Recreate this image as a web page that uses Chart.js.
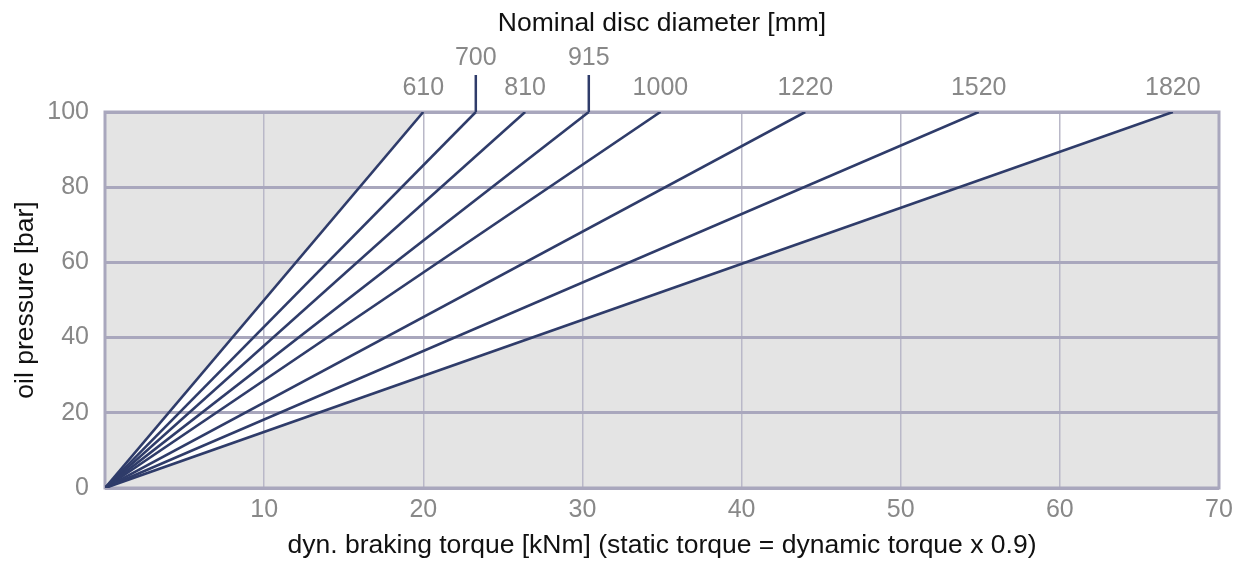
<!DOCTYPE html>
<html>
<head>
<meta charset="utf-8">
<script src="https://cdn.jsdelivr.net/npm/chart.js@4"></script>
<style>
  html, body { margin: 0; padding: 0; background: #fff; }
  #wrap { width: 1242px; height: 565px; }
</style>
</head>
<body>
<div id="wrap"><canvas id="myChart" width="1242" height="565"></canvas></div>
<script>
// disc diameters and the torque each one reaches at full oil pressure
var diameters = ['610', '700', '810', '915', '1000', '1220', '1520', '1820'];
var torqueAt100 = [20.0, 23.3, 26.4, 30.4, 34.9, 44.0, 54.9, 67.1];
var raisedLabels = ['700', '915'];
var pressureMax = 100;
var torqueMax = 70;

var navy = '#2f3c6a';
var frameColor = '#a9a7bd';

var datasets = diameters.map(function (d, i) {
    return {
        label: d,
        data: [{ x: 0, y: 0 }, { x: torqueAt100[i], y: pressureMax }],
        borderColor: navy,
        borderWidth: 2.6,
        pointRadius: 0,
        fill: false,
        xAxisID: 'x',
        yAxisID: 'y'
    };
});

var bgPlugin = {
    id: 'bgPlugin',
    beforeDraw: function (chart) {
        var ctx = chart.ctx, a = chart.chartArea;
        var xs = chart.scales.x, ys = chart.scales.y;
        ctx.save();
        ctx.fillStyle = '#e4e4e4';
        ctx.fillRect(a.left, a.top, a.right - a.left, a.bottom - a.top);
        // white wedge between first and last diameter line
        ctx.fillStyle = '#ffffff';
        ctx.beginPath();
        ctx.moveTo(xs.getPixelForValue(0), ys.getPixelForValue(0));
        ctx.lineTo(xs.getPixelForValue(torqueAt100[0]), ys.getPixelForValue(pressureMax));
        ctx.lineTo(xs.getPixelForValue(torqueAt100[torqueAt100.length - 1]), ys.getPixelForValue(pressureMax));
        ctx.closePath();
        ctx.fill();
        ctx.restore();
    },
    beforeDatasetsDraw: function (chart) {
        var ctx = chart.ctx, a = chart.chartArea;
        ctx.save();
        ctx.strokeStyle = frameColor;
        ctx.lineWidth = 3;
        ctx.strokeRect(a.left, a.top, a.right - a.left, a.bottom - a.top);
        // tick marks for the raised labels
        var x2 = chart.scales.x2;
        ctx.strokeStyle = navy;
        ctx.lineWidth = 2.5;
        diameters.forEach(function (d, i) {
            if (raisedLabels.indexOf(d) < 0) return;
            var px = x2.getPixelForValue(torqueAt100[i]);
            ctx.beginPath();
            ctx.moveTo(px, a.top);
            ctx.lineTo(px, a.top - 37);
            ctx.stroke();
        });
        ctx.restore();
    }
};

var tickFont = { family: 'Liberation Sans, Arial, sans-serif', size: 25 };
var titleFont = { family: 'Liberation Sans, Arial, sans-serif', size: 26.5 };

var ctx = document.getElementById('myChart').getContext('2d');
var chart = new Chart(ctx, {
    type: 'line',
    data: { datasets: datasets },
    options: {
        responsive: false,
        animation: false,
        events: [],
        layout: { padding: { left: 0, right: 23, top: 0, bottom: 0 } },
        plugins: {
            legend: { display: false },
            tooltip: { enabled: false }
        },
        scales: {
            x: {
                type: 'linear',
                position: 'bottom',
                min: 0,
                max: torqueMax,
                grid: { color: '#b9b8c8', lineWidth: 1.5, drawTicks: false },
                border: { display: false },
                ticks: {
                    stepSize: 10,
                    color: '#888888',
                    font: tickFont,
                    padding: 7,
                    maxRotation: 0,
                    callback: function (v) { return v === 0 ? '' : v; }
                },
                title: {
                    display: true,
                    text: 'dyn. braking torque [kNm] (static torque = dynamic torque x 0.9)',
                    color: '#111111',
                    font: titleFont,
                    padding: { top: 0, bottom: 3 }
                },
                afterFit: function (scale) { scale.height = 77; }
            },
            x2: {
                type: 'linear',
                position: 'top',
                min: 0,
                max: torqueMax,
                grid: { display: false, drawTicks: false },
                border: { display: false },
                afterBuildTicks: function (scale) {
                    scale.ticks = torqueAt100.map(function (v) { return { value: v }; });
                },
                ticks: {
                    autoSkip: false,
                    maxRotation: 0,
                    color: '#888888',
                    font: tickFont,
                    padding: 9,
                    callback: function (v, i) {
                        var d = diameters[i];
                        return raisedLabels.indexOf(d) >= 0 ? [d, ''] : d;
                    }
                },
                title: {
                    display: true,
                    text: 'Nominal disc diameter [mm]',
                    color: '#111111',
                    font: titleFont,
                    padding: { top: 8, bottom: 0 }
                },
                afterFit: function (scale) { scale.height = 112; }
            },
            y: {
                type: 'linear',
                min: 0,
                max: pressureMax,
                grid: { color: frameColor, lineWidth: 3, drawTicks: false },
                border: { display: false },
                ticks: {
                    stepSize: 20,
                    color: '#888888',
                    font: tickFont,
                    padding: 16
                },
                title: {
                    display: true,
                    text: 'oil pressure [bar]',
                    color: '#111111',
                    font: titleFont,
                    padding: { top: 10, bottom: 0 }
                },
                afterFit: function (scale) { scale.width = 105; }
            }
        }
    },
    plugins: [bgPlugin]
});
</script>
</body>
</html>
